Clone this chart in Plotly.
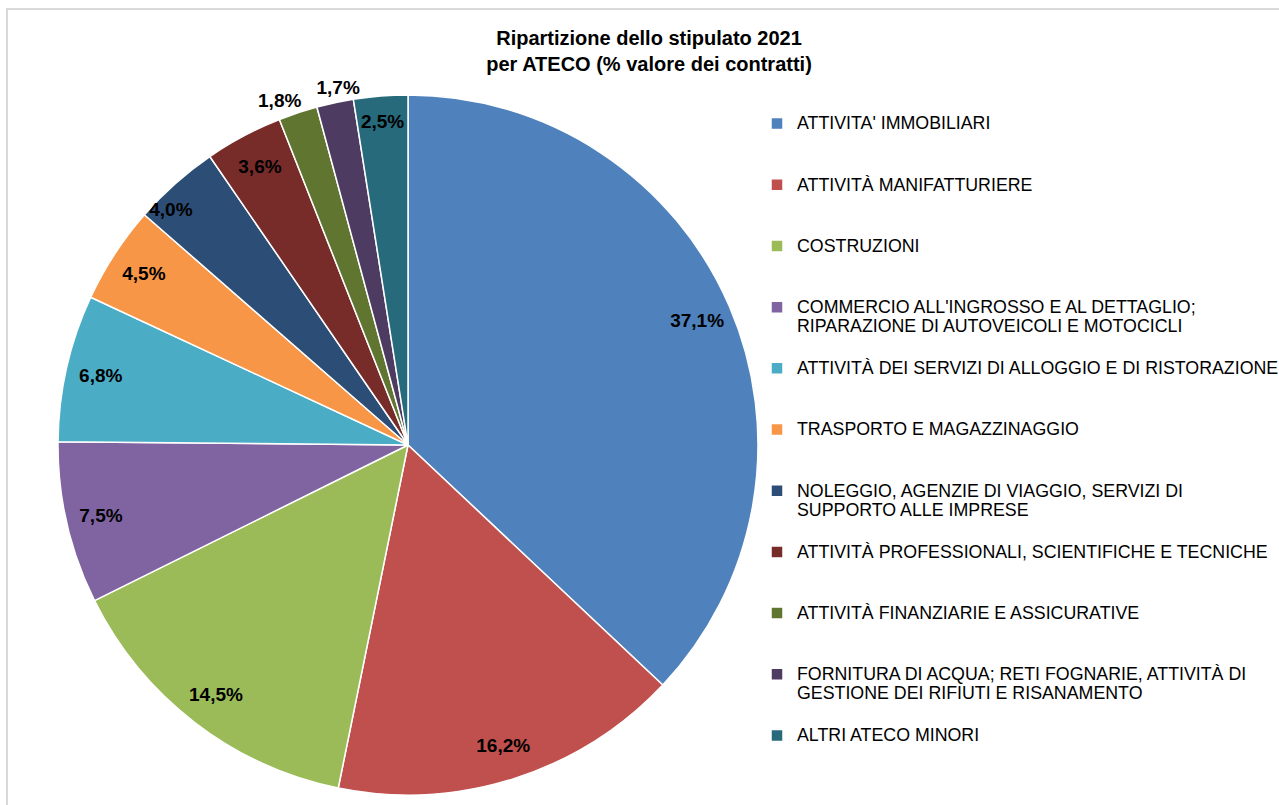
import plotly.graph_objects as go

categories = [
    "ATTIVITA' IMMOBILIARI",
    "ATTIVITÀ MANIFATTURIERE",
    "COSTRUZIONI",
    "COMMERCIO ALL'INGROSSO E AL DETTAGLIO;<br>RIPARAZIONE DI AUTOVEICOLI E MOTOCICLI",
    "ATTIVITÀ DEI SERVIZI DI ALLOGGIO E DI RISTORAZIONE",
    "TRASPORTO E MAGAZZINAGGIO",
    "NOLEGGIO, AGENZIE DI VIAGGIO, SERVIZI DI<br>SUPPORTO ALLE IMPRESE",
    "ATTIVITÀ PROFESSIONALI, SCIENTIFICHE E TECNICHE",
    "ATTIVITÀ FINANZIARIE E ASSICURATIVE",
    "FORNITURA DI ACQUA; RETI FOGNARIE, ATTIVITÀ DI<br>GESTIONE DEI RIFIUTI E RISANAMENTO",
    "ALTRI ATECO MINORI",
]
values = [37.1, 16.2, 14.5, 7.5, 6.8, 4.5, 4.0, 3.6, 1.8, 1.7, 2.5]
colors = ["#4F81BD", "#C0504D", "#9BBB59", "#8064A2", "#4BACC6", "#F79646",
          "#2C4D75", "#772C2A", "#5F7530", "#4D3B62", "#276A7C"]
# where each percentage label sits (mimicking the original "best fit" placement)
label_place = ["in", "in", "in", "in", "in", "in", "edge", "in", "out1", "out2", "in"]

W, H = 1279, 805
LEG_FS = 17.8
LBL_FS = 19
FONT = "Liberation Sans, Arial"
DOMAIN = dict(x=[58 / W, 758 / W], y=[1 - 795 / H, 1 - 95 / H])
CLEAR = ["rgba(0,0,0,0)"] * len(values)
TPL = "%{value:.1f}%"


def legend_label(c):
    parts = c.split("<br>")
    styled = ["<span style='font-size:%spx'>%s</span>" % (LEG_FS, p) for p in parts]
    if len(styled) == 1:
        return "\u00a0<br>" + styled[0] + "<br>\u00a0"
    return "\u00a0<br>" + "<br>".join(styled)


legend_names = [legend_label(c) for c in categories]
plain_names = [c.replace("<br>", " ") for c in categories]
label_font = dict(family=FONT, size=LBL_FS, color="black", weight="bold")


def label_layer(kinds, hole=0.0, rotation=0):
    """Transparent overlay pie carrying some of the percentage labels."""
    return go.Pie(
        labels=plain_names, values=values, sort=False,
        direction="clockwise", rotation=rotation, hole=hole,
        marker=dict(colors=CLEAR, line=dict(width=0)),
        texttemplate=[TPL if p in kinds else "" for p in label_place],
        textposition=[("outside" if p.startswith("out") else "inside") if p in kinds else "none"
                      for p in label_place],
        insidetextorientation="horizontal",
        textfont=label_font, showlegend=False, hoverinfo="skip", domain=DOMAIN,
    )


fig = go.Figure()
# the real pie (slices + legend)
fig.add_trace(go.Pie(
    labels=legend_names, values=values, sort=False,
    direction="clockwise", rotation=0,
    marker=dict(colors=colors, line=dict(color="white", width=1.5)),
    textinfo="none", hoverinfo="skip", domain=DOMAIN,
))
fig.add_trace(label_layer(("in",), hole=0.8))
fig.add_trace(label_layer(("edge",), hole=0.91, rotation=-3.5))
fig.add_trace(label_layer(("out1",), rotation=1.5))
fig.add_trace(label_layer(("out2",), rotation=5))

fig.update_layout(
    width=W, height=H,
    margin=dict(l=0, r=0, t=0, b=0, autoexpand=False),
    paper_bgcolor="white",
    separators=",.",
    uniformtext=dict(mode="show", minsize=LBL_FS),
    font=dict(family=FONT, color="black"),
    title=dict(
        text="<b>Ripartizione dello stipulato 2021<br>per ATECO (% valore dei contratti)</b>",
        x=649 / W, xanchor="center",
        y=1 - 45 / H, yanchor="top", yref="container",
        font=dict(size=20, color="black", family=FONT),
    ),
    legend=dict(
        x=757 / W, xanchor="left",
        y=1 - 88 / H, yanchor="top",
        font=dict(size=14.92, color="black", family=FONT),
        bgcolor="rgba(0,0,0,0)",
        traceorder="normal",
    ),
    shapes=[dict(type="rect", xref="paper", yref="paper",
                 x0=7 / W, x1=1.05, y0=-0.05, y1=1 - 9 / H,
                 line=dict(color="#D9D9D9", width=2), layer="below")],
)

fig.write_html("out.html")
